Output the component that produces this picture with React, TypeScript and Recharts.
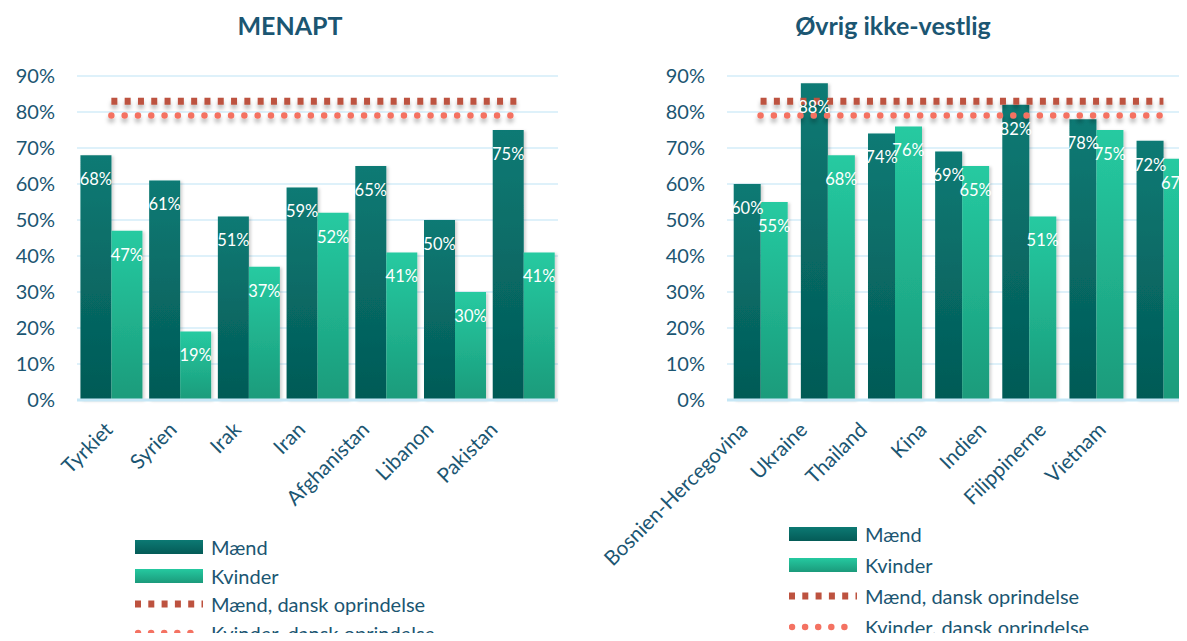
import {
  ComposedChart,
  Bar,
  Line,
  XAxis,
  YAxis,
  CartesianGrid,
  LabelList,
  Legend,
} from "recharts";

const menaptCountries = ["Tyrkiet", "Syrien", "Irak", "Iran", "Afghanistan", "Libanon", "Pakistan"];
const menaptMen = [68, 61, 51, 59, 65, 50, 75];
const menaptWomen = [47, 19, 37, 52, 41, 30, 41];

const otherCountries = ["Bosnien-Hercegovina", "Ukraine", "Thailand", "Kina", "Indien", "Filippinerne", "Vietnam"];
const otherMen = [60, 88, 74, 69, 82, 78, 72];
const otherWomen = [55, 68, 76, 65, 51, 75, 67];

// danish-origin reference levels (same for both panels)
const danishMen = 83;
const danishWomen = 79;

const yTicks = [0, 10, 20, 30, 40, 50, 60, 70, 80, 90];

const FONT = "Lato, 'Open Sans', sans-serif";
const TEXT = "#1b5672";
const GRID = "#d3ecf8";
const MEN_REF = "#bd523f";
const WOMEN_REF = "#f47262";

const legendItems = [
  { key: "men", label: "Mænd", kind: "bar", top: "#0c7973", bottom: "#045b57" },
  { key: "women", label: "Kvinder", kind: "bar", top: "#25c9a0", bottom: "#1b9a7b" },
  { key: "menDk", label: "Mænd, dansk oprindelse", kind: "dash" },
  { key: "womenDk", label: "Kvinder, dansk oprindelse", kind: "dot" },
];

type PanelProps = {
  id: string;
  title: string;
  titleX: number;
  left: number;
  width: number;
  yAxisWidth: number;
  marginRight: number;
  categories: string[];
  men: number[];
  women: number[];
  gap: string;
  labelPadding: { left: number; right: number };
  legendLeft: number;
  legendTop: number;
  legendRow: number;
};

function CountryTick(props: any) {
  const { x, y, payload } = props;
  return (
    <g transform={`translate(${x - 20}, ${y + 31}) rotate(-45)`}>
      <text x={0} y={0} textAnchor="end" fill={TEXT} fontSize={20.5} fontFamily={FONT}>
        {payload.value}
      </text>
    </g>
  );
}

function LegendBox({ row }: { row: number }) {
  return (
    <div style={{ fontFamily: FONT }}>
      {legendItems.map((item) => (
        <div key={item.key} style={{ display: "flex", alignItems: "center", height: row }}>
          {item.kind === "bar" ? (
            <div
              style={{
                width: 68,
                height: 14,
                background: `linear-gradient(${item.top}, ${item.bottom})`,
              }}
            />
          ) : (
            <svg width={68} height={14}>
              {item.kind === "dash" ? (
                <line x1={0} x2={68} y1={7} y2={7} stroke={MEN_REF} strokeWidth={7} strokeDasharray="6 7.3" />
              ) : (
                <line
                  x1={3}
                  x2={68}
                  y1={7}
                  y2={7}
                  stroke={WOMEN_REF}
                  strokeWidth={6.5}
                  strokeLinecap="round"
                  strokeDasharray="0 13.1"
                />
              )}
            </svg>
          )}
          <span style={{ marginLeft: 8, fontSize: 20, color: TEXT, whiteSpace: "nowrap" }}>{item.label}</span>
        </div>
      ))}
    </div>
  );
}

function Panel(p: PanelProps) {
  const data = p.categories.map((name, i) => ({
    name,
    men: p.men[i],
    women: p.women[i],
    menDk: danishMen,
    womenDk: danishWomen,
  }));

  return (
    <div style={{ position: "absolute", left: p.left, top: 0, width: p.width, height: 641 }}>
      <div
        style={{
          position: "absolute",
          left: p.titleX - 200,
          width: 400,
          top: 10,
          textAlign: "center",
          fontFamily: FONT,
          fontWeight: 700,
          fontSize: 25,
          color: TEXT,
        }}
      >
        {p.title}
      </div>
      <ComposedChart
        width={p.width}
        height={641}
        data={data}
        margin={{ top: 76, right: p.marginRight, left: 0, bottom: 141 }}
        barCategoryGap={p.gap}
        barGap={0}
      >
        <defs>
          <linearGradient id={`${p.id}-men`} x1="0" y1="0" x2="0" y2="1">
            <stop offset="0%" stopColor="#0c7a74" />
            <stop offset="100%" stopColor="#035a56" />
          </linearGradient>
          <linearGradient id={`${p.id}-women`} x1="0" y1="0" x2="0" y2="1">
            <stop offset="0%" stopColor="#26caa1" />
            <stop offset="100%" stopColor="#1b9b7b" />
          </linearGradient>
          <filter
            id={`${p.id}-shadow`}
            filterUnits="userSpaceOnUse"
            x={0}
            y={0}
            width={p.width}
            height={641}
          >
            <feDropShadow dx="0" dy="4" stdDeviation="2" floodColor="#000" floodOpacity="0.28" />
          </filter>
          <filter id={`${p.id}-barshadow`} x="-20%" y="-10%" width="140%" height="120%">
            <feDropShadow dx="2" dy="1" stdDeviation="1.5" floodColor="#000" floodOpacity="0.18" />
          </filter>
        </defs>
        <CartesianGrid vertical={false} stroke={GRID} strokeWidth={1.5} xAxisId="bars" />
        <XAxis xAxisId="bars" dataKey="name" hide height={0} />
        <XAxis
          xAxisId="labels"
          dataKey="name"
          height={100}
          interval={0}
          padding={p.labelPadding}
          tickLine={false}
          tickSize={0}
          tickMargin={0}
          axisLine={{ stroke: "#c6e7f6", strokeWidth: 3 }}
          tick={<CountryTick />}
        />
        <YAxis
          width={p.yAxisWidth}
          domain={[0, 90]}
          ticks={yTicks}
          interval={0}
          axisLine={false}
          tickLine={false}
          tickSize={0}
          tickMargin={22}
          tickFormatter={(v) => `${v}%`}
          tick={{ fill: TEXT, fontSize: 20, fontFamily: FONT }}
        />
        <Bar
          xAxisId="bars"
          dataKey="men"
          fill={`url(#${p.id}-men)`}
          filter={`url(#${p.id}-barshadow)`}
          isAnimationActive={false}
        >
          <LabelList
            dataKey="men"
            position="insideTop"
            offset={18}
            formatter={(v: any) => `${v}%`}
            fill="#fff"
            fontSize={16.5}
            fontFamily={FONT}
          />
        </Bar>
        <Bar
          xAxisId="bars"
          dataKey="women"
          fill={`url(#${p.id}-women)`}
          filter={`url(#${p.id}-barshadow)`}
          isAnimationActive={false}
        >
          <LabelList
            dataKey="women"
            position="insideTop"
            offset={18}
            formatter={(v: any) => `${v}%`}
            fill="#fff"
            fontSize={16.5}
            fontFamily={FONT}
          />
        </Bar>
        <Line
          xAxisId="bars"
          type="linear"
          dataKey="menDk"
          stroke={MEN_REF}
          strokeWidth={7}
          strokeDasharray="6 7.3"
          dot={false}
          activeDot={false}
          filter={`url(#${p.id}-shadow)`}
          isAnimationActive={false}
        />
        <Line
          xAxisId="bars"
          type="linear"
          dataKey="womenDk"
          stroke={WOMEN_REF}
          strokeWidth={6.5}
          strokeLinecap="round"
          strokeDasharray="0 13.3"
          dot={false}
          activeDot={false}
          filter={`url(#${p.id}-shadow)`}
          isAnimationActive={false}
        />
        <Legend
          layout="vertical"
          align="center"
          verticalAlign="middle"
          wrapperStyle={{ left: p.legendLeft, top: p.legendTop, width: "auto" }}
          content={() => <LegendBox row={p.legendRow} />}
        />
      </ComposedChart>
    </div>
  );
}

export default function App() {
  return (
    <div
      style={{
        position: "relative",
        width: 1187,
        height: 641,
        margin: -8,
        overflow: "hidden",
        background: "#fff",
      }}
    >
      <Panel
        id="menapt"
        title="MENAPT"
        titleX={290}
        left={0}
        width={580}
        yAxisWidth={77}
        marginRight={22}
        categories={menaptCountries}
        men={menaptMen}
        women={menaptWomen}
        gap="5%"
        labelPadding={{ left: 25, right: 7 }}
        legendLeft={135}
        legendTop={533}
        legendRow={28.5}
      />
      <Panel
        id="other"
        title="Øvrig ikke-vestlig"
        titleX={313}
        left={580}
        width={620}
        yAxisWidth={147}
        marginRight={3}
        categories={otherCountries}
        men={otherMen}
        women={otherWomen}
        gap="10%"
        labelPadding={{ left: 12, right: 40 }}
        legendLeft={209}
        legendTop={518}
        legendRow={31}
      />
    </div>
  );
}
